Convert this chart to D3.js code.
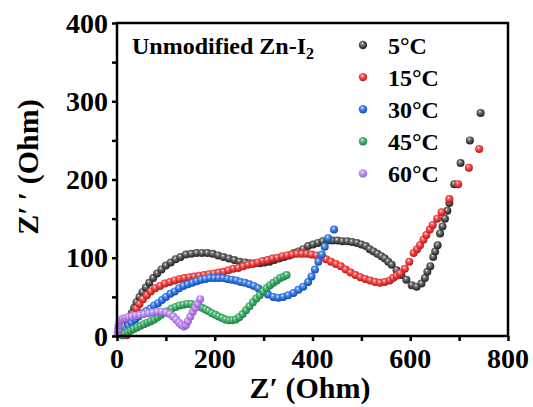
<!DOCTYPE html>
<html>
<head>
<meta charset="utf-8">
<script src="https://cdn.jsdelivr.net/npm/d3@7"></script>
<style>
  body { margin: 0; background: #fff; }
  svg text { font-family: "Liberation Serif", "Times New Roman", serif; font-weight: bold; fill: #000; }
</style>
</head>
<body>
<svg id="chart" width="533" height="407"></svg>
<script>
// Nyquist data: [Z' , Z''] in Ohm
const labels = ["5\u00B0C", "15\u00B0C", "30\u00B0C", "45\u00B0C", "60\u00B0C"];

const t5 = [[17,3],[19,9],[22,15],[26,22],[30,29],[35,36],[40,43],[46,50],[52,56],[59,62],[66,68],[74,74],[82,80],[91,85],[100,90],[110,94],[120,98],[130,101],[141,104],[152,105],[163,106],[174,106],[185,106],[196,105],[207,103],[218,101],[229,99],[240,97],[251,95],[262,94],[272,93],[282,93],[292,93],[302,94],[312,95],[322,97],[332,99],[342,101],[352,103],[362,106],[371,108],[381,111],[391,115],[401,117],[411,119],[421,121],[431,122],[441,122],[451,122],[461,121],[471,121],[481,120],[491,119],[500,117],[509,115],[517,111],[525,108],[533,105],[541,102],[548,99],[555,95],[562,91],[572,84],[582,78],[592,72],[603,65],[613,63],[623,67],[630,74],[635,82],[641,89],[647,101],[651,108],[656,116],[661,131],[666,140],[671,150],[676,160],[680,170],[690,194],[703,221],[722,250],[744,285]];

const t15 = [[20,1],[22,7],[25,14],[29,21],[34,28],[40,35],[46,41],[53,47],[61,52],[69,57],[78,61],[88,64],[98,67],[108,69],[118,71],[128,73],[138,74],[148,75],[158,76],[168,77],[178,78],[188,79],[198,80],[208,81],[218,82],[228,84],[238,86],[248,87],[258,89],[268,91],[278,92],[288,94],[298,96],[308,97],[318,99],[328,100],[338,102],[348,103],[358,104],[368,105],[378,105],[388,105],[398,104],[408,103],[418,101],[428,98],[438,95],[448,92],[458,89],[468,85],[478,81],[488,78],[498,75],[508,73],[518,71],[528,69],[538,68],[548,69],[558,71],[565,74],[572,77],[579,80],[589,86],[598,95],[607,106],[614,111],[620,116],[627,123],[633,129],[640,136],[646,142],[655,150],[664,158],[680,175],[698,194],[720,215],[741,239]];

const t30 = [[12,1],[15,5],[19,9],[24,13],[30,17],[37,21],[44,25],[52,29],[60,32],[68,35],[76,39],[84,42],[92,46],[100,50],[109,54],[118,57],[127,61],[136,64],[145,66],[154,68],[163,70],[172,72],[181,73],[190,74],[199,74],[208,74],[217,74],[226,73],[235,72],[244,71],[253,69],[262,68],[271,66],[280,64],[289,61],[299,57],[309,53],[320,50],[330,49],[340,50],[350,52],[361,55],[371,59],[381,63],[391,69],[398,76],[405,85],[412,95],[419,104],[425,114],[432,125],[444,136]];

const t45 = [[10,1],[16,3],[22,5],[28,7],[34,9],[41,11],[48,13],[55,15],[62,17],[69,19],[76,21],[83,24],[90,27],[97,30],[104,32],[112,35],[120,37],[128,39],[136,40],[144,41],[152,41],[160,40],[167,38],[174,36],[181,34],[187,32],[194,29],[201,27],[208,25],[215,23],[222,21],[229,20],[236,20],[243,21],[250,24],[257,28],[264,33],[271,38],[278,43],[285,48],[292,52],[299,57],[306,61],[313,65],[320,68],[327,71],[334,74],[341,76],[347,78]];

const t60 = [[1,3],[2,8],[3,13],[5,17],[8,20],[12,22],[17,23],[23,24],[30,25],[38,26],[46,27],[55,28],[64,29],[73,30],[82,31],[91,31],[100,30],[108,28],[115,25],[121,21],[127,17],[132,14],[137,12],[141,14],[145,19],[150,25],[155,31],[160,36],[165,41],[170,47]];

const series = [t5, t15, t30, t45, t60];
const xTicks = [0, 200, 400, 600, 800];
const yTicks = [0, 100, 200, 300, 400];

// colours: [base, dark] per series
const colors = [["#4b4b4b", "#222"], ["#ec3434", "#b01818"], ["#2a72e2", "#1248a8"], ["#36aa62", "#1c7a42"], ["#b683ea", "#8a58c8"]];

const svg = d3.select("#chart");
const margin = {top: 23, right: 25, bottom: 71, left: 117};
const W = 533, H = 407;

const x = d3.scaleLinear().domain([0, 800]).range([margin.left, W - margin.right]);
const y = d3.scaleLinear().domain([0, 400]).range([H - margin.bottom, margin.top]);

// sphere-like shading for markers
const defs = svg.append("defs");
colors.forEach(function(c, i) {
  const g = defs.append("radialGradient").attr("id", "ball" + i)
    .attr("cx", "45%").attr("cy", "40%").attr("r", "60%")
    .attr("fx", "40%").attr("fy", "32%");
  g.append("stop").attr("offset", "0%").attr("stop-color", "#fff");
  g.append("stop").attr("offset", "22%").attr("stop-color", d3.interpolateRgb(c[0], "#fff")(0.35));
  g.append("stop").attr("offset", "60%").attr("stop-color", c[0]);
  g.append("stop").attr("offset", "100%").attr("stop-color", c[1]);
});

// markers
const plot = svg.append("g");
series.forEach(function(pts, i) {
  plot.append("g").selectAll("circle")
    .data(pts)
    .enter().append("circle")
    .attr("cx", d => x(d[0]))
    .attr("cy", d => y(d[1]))
    .attr("r", 4)
    .attr("fill", "url(#ball" + i + ")");
});

// axes
const xAxis = d3.axisBottom(x).tickValues(d3.range(0, 801, 100)).tickSize(5).tickFormat("");
const yAxis = d3.axisLeft(y).tickValues(d3.range(0, 401, 50)).tickSize(5).tickFormat("");

svg.append("g").attr("transform", `translate(0,${y(0)})`).call(xAxis)
  .call(g => g.select(".domain").remove())
  .selectAll("line").attr("stroke", "#000").attr("stroke-width", 2.5);
svg.append("g").attr("transform", `translate(${x(0)},0)`).call(yAxis)
  .call(g => g.select(".domain").remove())
  .selectAll("line").attr("stroke", "#000").attr("stroke-width", 2.5);

// frame
svg.append("rect")
  .attr("x", x(0)).attr("y", y(400))
  .attr("width", x(800) - x(0)).attr("height", y(0) - y(400))
  .attr("fill", "none").attr("stroke", "#000").attr("stroke-width", 2.5);

// tick labels
svg.append("g").selectAll("text").data(xTicks).enter().append("text")
  .attr("x", d => x(d)).attr("y", y(0) + 32)
  .attr("text-anchor", "middle").style("font-size", "28px")
  .text(d => d);
svg.append("g").selectAll("text").data(yTicks).enter().append("text")
  .attr("x", x(0) - 9).attr("y", d => y(d) + 9.5)
  .attr("text-anchor", "end").style("font-size", "28px")
  .text(d => d);

// axis titles
svg.append("text")
  .attr("x", 310).attr("y", 398)
  .attr("text-anchor", "middle").style("font-size", "30px")
  .text("Z\u2032 (Ohm)");
svg.append("text")
  .attr("transform", "translate(38,167) rotate(-90)")
  .attr("text-anchor", "middle").style("font-size", "30px")
  .text("Z\u2032\u2009\u2032 (Ohm)");

// sample name
const title = svg.append("text")
  .attr("x", 132).attr("y", 54)
  .style("font-size", "24px");
title.append("tspan").text("Unmodified Zn-I");
title.append("tspan").attr("dy", 5).style("font-size", "16px").text("2");

// legend
const leg = svg.append("g").selectAll("g").data(labels).enter().append("g")
  .attr("transform", (d, i) => `translate(363,${45 + i * 32.1})`);
leg.append("circle").attr("r", 4.2).attr("fill", (d, i) => "url(#ball" + i + ")");
leg.append("text").attr("x", 25).attr("y", 8.5).style("font-size", "24px").text(d => d);
</script>
</body>
</html>
